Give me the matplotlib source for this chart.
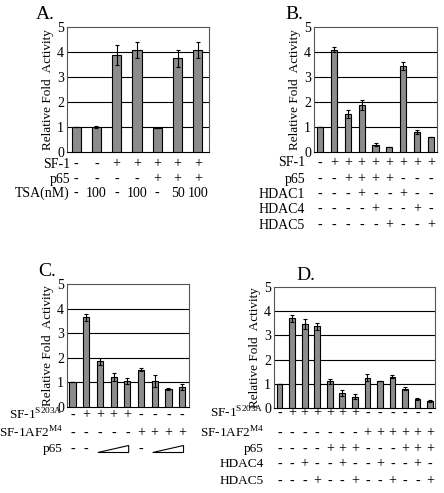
import matplotlib
matplotlib.use("Agg")
import matplotlib.pyplot as plt
import matplotlib.transforms as mtransforms
from matplotlib.patches import Polygon

plt.rcParams['font.family'] = ['Liberation Serif', 'DejaVu Serif']
plt.rcParams['mathtext.fontset'] = 'custom'
plt.rcParams['mathtext.rm'] = 'Liberation Serif'
plt.rcParams['hatch.linewidth'] = 0.6

# ---------------- data ----------------
a_vals = [1.0, 1.0, 3.9, 4.1, 0.97, 3.75, 4.1]
a_err = [0.0, 0.03, 0.4, 0.32, 0.0, 0.35, 0.32]
a_rows = ["SF-1", "p65", "TSA(nM)"]
a_table = [["-", "-", "+", "+", "+", "+", "+"],
           ["-", "-", "-", "-", "+", "+", "+"],
           ["-", "100", "-", "100", "-", "50", "100"]]

b_vals = [1.0, 4.1, 1.52, 1.88, 0.3, 0.2, 3.45, 0.8, 0.6]
b_err = [0.0, 0.1, 0.15, 0.2, 0.05, 0.0, 0.15, 0.08, 0.0]
b_rows = ["SF-1", "p65", "HDAC1", "HDAC4", "HDAC5"]
b_table = [["-", "+", "+", "+", "+", "+", "+", "+", "+"],
           ["-", "-", "+", "+", "+", "+", "-", "-", "-"],
           ["-", "-", "-", "+", "-", "-", "+", "-", "-"],
           ["-", "-", "-", "-", "+", "-", "-", "+", "-"],
           ["-", "-", "-", "-", "-", "+", "-", "-", "+"]]

c_vals = [1.0, 3.65, 1.85, 1.22, 1.07, 1.52, 1.07, 0.73, 0.83]
c_err = [0.0, 0.15, 0.15, 0.15, 0.12, 0.05, 0.25, 0.05, 0.12]
c_rows = [r"SF-1$^{\rm S203A}$", r"SF-1AF2$^{\rm M4}$", "p65"]
c_table = [["-", "+", "+", "+", "+", "-", "-", "-", "-"],
           ["-", "-", "-", "-", "-", "+", "+", "+", "+"],
           ["-", "-", "", "", "", "-", "", "", ""]]
c_wedges = [(2, 4), (6, 8)]

d_vals = [1.0, 3.7, 3.48, 3.38, 1.1, 0.63, 0.47, 1.25, 1.13, 1.3, 0.8, 0.38, 0.28]
d_err = [0.0, 0.15, 0.2, 0.15, 0.1, 0.12, 0.1, 0.15, 0.0, 0.08, 0.05, 0.03, 0.03]
d_rows = [r"SF-1$^{\rm S203A}$", r"SF-1AF2$^{\rm M4}$", "p65", "HDAC4", "HDAC5"]
d_table = [["-", "+", "+", "+", "+", "+", "+", "-", "-", "-", "-", "-", "-"],
           ["-", "-", "-", "-", "-", "-", "-", "+", "+", "+", "+", "+", "+"],
           ["-", "-", "-", "-", "+", "+", "+", "-", "-", "-", "+", "+", "+"],
           ["-", "-", "+", "-", "-", "+", "-", "-", "+", "-", "-", "+", "-"],
           ["-", "-", "-", "+", "-", "-", "+", "-", "-", "+", "-", "-", "+"]]

yticks = [0, 1, 2, 3, 4, 5]
ylabel = "Relative Fold  Activity"

W, H = 444, 493
fig = plt.figure(figsize=(W / 100, H / 100), dpi=100)


def fx(x):
    return x / W


def fy(y):
    return 1 - y / H


def panel(rect_px, vals, err, xlim, letter, letter_xy, rows, table,
          row_label_x, row_ys, label_fs=10, wedges=None, width=0.45):
    x0, y0, x1, y1 = rect_px
    ax = fig.add_axes([fx(x0), fy(y1), (x1 - x0) / W, (y1 - y0) / H])
    xs = list(range(len(vals)))
    ax.bar(xs, vals, width=width, facecolor='#d6d6d6', edgecolor='#8c8c8c',
           hatch='-' * 36, linewidth=0, zorder=3)
    ax.bar(xs, vals, width=width, fill=False, edgecolor='black',
           linewidth=0.8, zorder=4)
    ax.errorbar(xs, vals, yerr=err, fmt='none', ecolor='black',
                elinewidth=0.8, capsize=1.5, capthick=0.8, zorder=5)
    ax.set_xlim(*xlim)
    ax.set_ylim(0, 5)
    ax.set_yticks(yticks)
    ax.set_yticklabels([str(t) for t in yticks], fontsize=10)
    ax.set_xticks([])
    ax.tick_params(axis='y', length=0, pad=2)
    for yv in yticks[1:5]:
        ax.axhline(yv, color='black', lw=0.8, zorder=1)
    for s in ax.spines.values():
        s.set_color('#555555')
        s.set_linewidth(0.8)
    ax.spines['bottom'].set_color('black')
    ax.set_ylabel(ylabel, fontsize=9.5, labelpad=2)
    fig.text(fx(letter_xy[0]), fy(letter_xy[1]), letter, fontsize=14,
             ha='left', va='top')
    trans = mtransforms.blended_transform_factory(ax.transData, fig.transFigure)
    for r, (lab, yy) in enumerate(zip(rows, row_ys)):
        fig.text(fx(row_label_x), fy(yy), lab, fontsize=label_fs, ha='right',
                 va='center')
        for i, s in enumerate(table[r]):
            if s:
                ax.text(i, fy(yy), s, transform=trans, fontsize=10,
                        ha='center', va='center', clip_on=False)
    if wedges:
        yb = fy(row_ys[-1] + 3.5)
        yt = fy(row_ys[-1] - 3.5)
        for (i0, i1) in wedges:
            poly = Polygon([(i0 - 0.15, yb), (i1 + 0.1, yb), (i1 + 0.1, yt)],
                           closed=True, fill=False, edgecolor='black',
                           linewidth=0.8, transform=trans, clip_on=False)
            ax.add_artist(poly)
    return ax


panel((67, 27, 209, 152), a_vals, a_err, (-0.45, 6.55), "A.", (36, 6),
      a_rows, a_table, 70, [164, 179, 193])
panel((314, 27, 437, 152), b_vals, b_err, (-0.45, 8.45), "B.", (285, 6),
      b_rows, b_table, 305, [163, 179, 194, 209, 225])
panel((67, 284, 189, 407), c_vals, c_err, (-0.4, 8.5), "C.", (38, 263),
      c_rows, c_table, 63, [415, 433, 449], label_fs=9.5, wedges=c_wedges)
panel((274, 287, 435, 408), d_vals, d_err, (-0.45, 12.4), "D.", (296, 267),
      d_rows, d_table, 264, [413, 433, 449, 464, 481], label_fs=9.5)

fig.savefig("out.png", dpi=100)
